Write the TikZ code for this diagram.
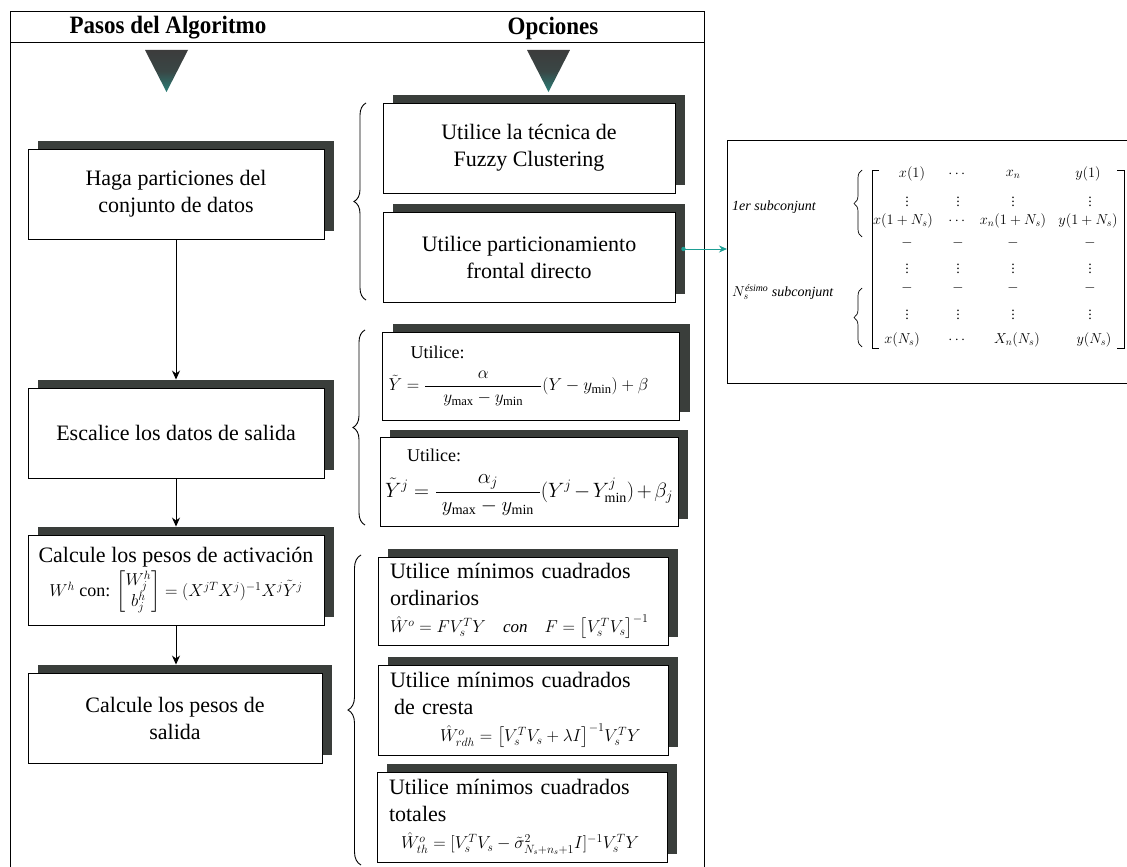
\documentclass[tikz,border=0pt]{standalone}
\usepackage{amsmath}
\usepackage{fontspec}
\setmainfont{Liberation Serif}
\newfontfamily\headfont[FakeStretch=0.92]{Liberation Serif}
\usetikzlibrary{arrows.meta,shadows,decorations.pathreplacing}
\definecolor{shd}{HTML}{3A3E3B}
\definecolor{tealc}{HTML}{1E9E94}
\definecolor{tritop}{HTML}{3C3C3C}
\definecolor{tribot}{HTML}{2A7F78}
\begin{document}
\begin{tikzpicture}[x=1pt,y=-1pt,
  box/.style={draw=black, line width=0.9pt, fill=white, inner sep=4pt,
    general shadow={fill=shd, shadow xshift=10pt, shadow yshift=8pt},
    font=\fontsize{22}{27}\selectfont, align=center},
  arr/.style={-{Stealth[length=9pt,width=8pt]}, line width=0.9pt},
  tarr/.style={-{Stealth[length=8pt,width=7pt]}, line width=1pt, draw=tealc},
  brc/.style={decorate, decoration={brace, amplitude=#1}, line width=0.9pt},
  brc/.default=12pt,
  head/.style={font=\headfont\bfseries\fontsize{25}{28}\selectfont},
  ment/.style={font=\fontsize{14}{16}\selectfont, inner sep=1pt},
  mlab/.style={font=\itshape\fontsize{14}{16}\selectfont, inner sep=1pt, anchor=west},
]
\useasboundingbox (0,0) rectangle (1127,867);
\fill[white] (0,0) rectangle (1127,867);

% outer frame
\draw[line width=1pt] (10,12) rectangle (704,880);
\draw[line width=1pt] (10,43) -- (704,43);

\node[head] (h1) at (168,28) {Pasos del Algoritmo};
\node[head] (h2) at (553,28) {Opciones};

% triangles
\shade[top color=tritop, bottom color=tribot, middle color=tritop!85!tribot]
  (145,50) -- (188,50) -- (166.5,92) -- cycle;
\shade[top color=tritop, bottom color=tribot, middle color=tritop!85!tribot]
  (527,50) -- (570,50) -- (548.5,92) -- cycle;

% left column
\node[box, minimum width=296pt, minimum height=90pt] (L1) at (176,194)
  {Haga particiones del\\conjunto de datos};
\node[box, minimum width=296pt, minimum height=90pt] (L2) at (176,433)
  {Escalice los datos de salida};
\node[box, minimum width=296pt, minimum height=90pt, inner sep=2pt] (L3) at (176,580)
  {Calcule los pesos de activación\\[3pt]
   {\fontsize{18}{20}\selectfont $W^{h}$ con: $\begin{bmatrix}W^{h}_{j}\\ b^{h}_{j}\end{bmatrix}=(X^{jT}X^{j})^{-1}X^{j}\tilde{Y}^{j}$}};
\node[box, minimum width=294pt, minimum height=90pt] (L4) at (175,718)
  {Calcule los pesos de\\salida};

\draw[arr] (L1.south) -- ([yshift=8pt]L1.south |- L2.north);
\draw[arr] (L2.south) -- ([yshift=8pt]L2.south |- L3.north);
\draw[arr] (L3.south) -- ([yshift=8pt]L3.south |- L4.north);

% right column
\node[box, minimum width=292pt, minimum height=90pt] (R1) at (529,148)
  {Utilice la técnica de\\Fuzzy Clustering};
\node[box, minimum width=292pt, minimum height=90pt] (R2) at (529,257)
  {Utilice particionamiento\\frontal directo};
\node[box, minimum width=297pt, minimum height=88pt, align=left, text width=285pt,
      font=\fontsize{18}{22}\selectfont] (R3) at (531,376)
  {\hspace*{22pt}Utilice:\\[10pt]
   $\tilde{Y}=\dfrac{\alpha}{\quad y_{\max}-y_{\min}\quad}(Y-y_{\min})+\beta$};
\node[box, minimum width=298pt, minimum height=89pt, align=left, text width=288pt,
      font=\fontsize{18}{22}\selectfont] (R4) at (529,482)
  {\hspace*{22pt}Utilice:\\[12pt]
   {\fontsize{20}{22}\selectfont $\tilde{Y}^{j}=\dfrac{\alpha_{j}}{\;y_{\max}-y_{\min}\;}(Y^{j}-Y^{j}_{\min})+\beta_{j}$}};
\node[box, minimum width=290pt, minimum height=88pt, align=left, text width=266pt] (R5) at (523,601)
  {Utilice mínimos cuadrados\\ordinarios\\
   {\fontsize{17}{20}\selectfont $\hat{W}^{o}=FV_{s}^{T}Y\quad \mathit{con}\quad F=\bigl[V_{s}^{T}V_{s}\bigr]^{-1}$}};
\node[box, minimum width=290pt, minimum height=90pt, align=left, text width=266pt] (R6) at (523,710)
  {Utilice mínimos cuadrados\\\hspace*{4pt}de cresta\\
   \hspace*{50pt}{\fontsize{17}{20}\selectfont $\hat{W}^{o}_{rdh}=\bigl[V_{s}^{T}V_{s}+\lambda I\bigr]^{-1}V_{s}^{T}Y$}};
\node[box, minimum width=290pt, minimum height=90pt, align=left, text width=266pt] (R7) at (522,817)
  {Utilice mínimos cuadrados\\totales\\
   \hspace*{12pt}{\fontsize{17}{20}\selectfont $\hat{W}^{o}_{th}=[V_{s}^{T}V_{s}-\tilde{\sigma}^{2}_{N_s+n_s+1}I]^{-1}V_{s}^{T}Y$}};

% braces
\draw[brc] (366,300) -- (366,103);
\draw[brc] (365,525) -- (365,330);
\draw[brc=13pt] (361,865) -- (361,555);

% matrix box
\node[draw, line width=0.9pt, minimum width=420pt, minimum height=243pt, anchor=north west, inner sep=0pt] (M) at (727,140) {};
\coordinate (ts) at ([xshift=8pt,yshift=8pt]R2.east);
\fill[tealc] (ts) circle (2.2pt);
\draw[tarr] (ts) -- (ts -| M.west);

\node[mlab] (lab1) at (731,207) {1er subconjunt};
\node[mlab] (lab2) at (731,292) {$N_{s}^{\text{ésimo}}$ subconjunt};
\draw[brc=8pt, line width=0.7pt] (862,237) -- (862,170);
\draw[brc=8pt, line width=0.7pt] (862,347) -- (862,288);
\draw[line width=0.8pt] (879,170) -- (872,170) -- (872,348) -- (879,348);
\draw[line width=0.8pt] (1117,170) -- (1124,170) -- (1124,348) -- (1117,348);

\node[ment] (a1) at (912,174) {$x(1)$};
\node[ment] (a2) at (958,174) {$\cdots$};
\node[ment] (a3) at (1013,174) {$x_{n}$};
\node[ment] (a4) at (1088,174) {$y(1)$};
\node[ment] (b1) at (903,221) {$x(1+N_{s})$};
\node[ment] (b2) at (958,221) {$\cdots$};
\node[ment] (b3) at (1013,221) {$x_{n}(1+N_{s})$};
\node[ment] (b4) at (1088,221) {$y(1+N_{s})$};
\node[ment] (c1) at (902,340) {$x(N_{s})$};
\node[ment] (c2) at (958,340) {$\cdots$};
\node[ment] (c3) at (1017,340) {$X_{n}(N_{s})$};
\node[ment] (c4) at (1094,340) {$y(N_{s})$};
\foreach \c/\x in {1/907,2/958,3/1013,4/1090}{
  \node[ment] (va\c) at (\x,199) {$\vdots$};
  \node[ment] (da\c) at (\x,243) {$-$};
  \node[ment] (vb\c) at (\x,266) {$\vdots$};
  \node[ment] (db\c) at (\x,288) {$-$};
  \node[ment] (vc\c) at (\x,312) {$\vdots$};
}
\end{tikzpicture}
\end{document}
